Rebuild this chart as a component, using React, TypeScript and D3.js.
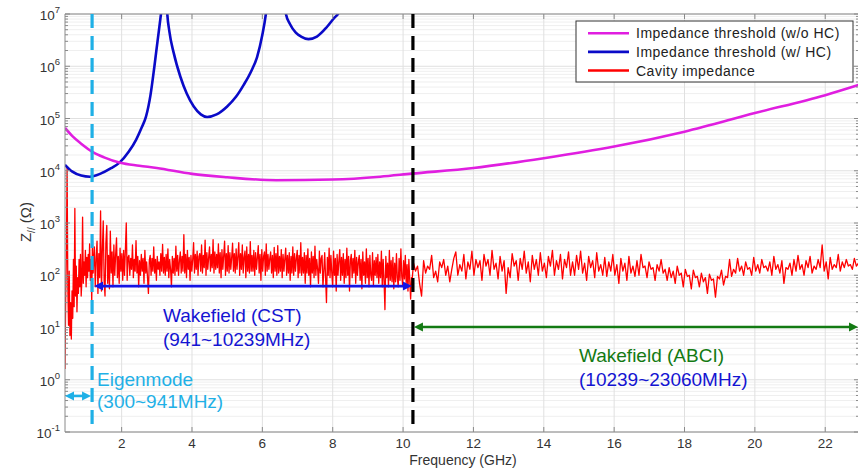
import React from 'react';
import * as d3 from 'd3';

const W = 858, H = 469;
const PL = 65, PR = 859, PT = 14, PB = 432;

const xDomain = [0.39, 22.96];
const yDomain = [0.1, 1e7];
const xTicks = [2, 4, 6, 8, 10, 12, 14, 16, 18, 20, 22];
const yTickExps = [-1, 0, 1, 2, 3, 4, 5, 6, 7];

// Impedance threshold (w/o HC)
const magentaFreq = [0.39, 0.6, 0.85, 1.17, 1.5, 1.96, 2.5, 3.0, 4.0, 5.0, 6.4, 8.0, 9.35, 10.24, 12, 14, 16, 18, 20, 22, 23];
const magentaVal = [6.6e4, 4.6e4, 3.3e4, 2.3e4, 1.8e4, 1.42e4, 1.25e4, 1.13e4, 8.7e3, 7.5e3, 6.6e3, 6.8e3, 7.7e3, 8.8e3, 1.13e4, 1.74e4, 2.9e4, 5.6e4, 1.27e5, 2.8e5, 4.5e5];

// Impedance threshold (w/ HC), three branches between resonances
const blue1Freq = [0.39, 0.6, 0.85, 1.1, 1.4, 1.7, 1.94, 2.2, 2.41, 2.56, 2.69, 2.82, 2.93, 3.02, 3.1, 3.17, 3.22];
const blue1Val = [1.3e4, 9.6e3, 8.1e3, 7.7e3, 8.8e3, 1.12e4, 1.43e4, 2.3e4, 3.9e4, 6.5e4, 1.07e5, 2.8e5, 9.8e5, 3e6, 8e6, 2e7, 5e7];
const blue2Freq = [3.25, 3.29, 3.36, 3.48, 3.67, 3.85, 4.05, 4.25, 4.43, 4.7, 5.0, 5.25, 5.47, 5.7, 5.85, 6.0, 6.1, 6.18];
const blue2Val = [5e7, 1.2e7, 4.5e6, 1.8e6, 6.3e5, 3e5, 1.7e5, 1.2e5, 1.07e5, 1.2e5, 1.7e5, 2.6e5, 4.4e5, 8.5e5, 1.5e6, 4e6, 1e7, 3e7];
const blue3Freq = [6.6, 6.67, 6.78, 6.95, 7.1, 7.31, 7.55, 7.84, 8.05, 8.15, 8.25];
const blue3Val = [2e7, 1e7, 6.5e6, 4.4e6, 3.7e6, 3.3e6, 3.7e6, 5.7e6, 8.5e6, 1e7, 1.3e7];

// Cavity impedance: eigenmode part
const redEarlyFreq = [0.39, 0.41, 0.43, 0.45, 0.47, 0.49, 0.51, 0.53, 0.55, 0.57, 0.59, 0.61, 0.63, 0.65, 0.67, 0.69, 0.71, 0.73, 0.75, 0.77, 0.79, 0.81, 0.83, 0.85, 0.87, 0.89, 0.91, 0.93, 0.95, 0.97, 0.99, 1.01, 1.03, 1.05, 1.07, 1.09, 1.11, 1.13, 1.15, 1.17, 1.19];
const redEarlyVal = [1.6, 40, 300, 12000, 60, 11, 120, 7, 30, 6, 50, 15, 200, 25, 1900, 40, 150, 20, 90, 45, 200, 60, 250, 40, 80, 1300, 70, 180, 100, 300, 60, 220, 90, 250, 120, 400, 80, 200, 30, 450, 110];

// Cavity impedance: wakefield (CST), evenly sampled 1.2 .. 10.24 GHz
const cstStart = 1.2, cstEnd = 10.24;
const cstVal = [
  120, 350, 60, 210, 450, 45, 260, 90, 1700, 50, 300, 1100, 80, 40, 420, 900, 70, 240, 55, 700,
  110, 280, 60, 380, 100, 250, 520, 90, 230, 70, 330, 120, 260, 80, 300, 100, 310, 1000, 80, 220,
  240, 100, 210, 130, 380, 90, 200, 120, 460, 110, 230, 60, 190, 100, 250, 120, 210, 70, 300, 110,
  180, 90, 45, 190, 240, 100, 210, 120, 350, 110, 200, 80, 230, 130, 180, 100, 260, 120, 390, 110,
  220, 100, 250, 120, 320, 90, 200, 130, 60, 230, 110, 210, 100, 360, 120, 240, 100, 190, 280, 110,
  230, 120, 600, 110, 250, 90, 300, 130, 220, 80, 240, 120, 200, 420, 110, 250, 130, 290, 100, 230,
  260, 120, 380, 110, 240, 140, 470, 100, 270, 130, 220, 350, 120, 250, 140, 480, 110, 280, 130, 250,
  140, 400, 110, 270, 90, 310, 130, 240, 450, 100, 260, 120, 370, 110, 270, 130, 220, 410, 120, 260,
  110, 320, 130, 230, 420, 100, 260, 130, 380, 110, 220, 290, 90, 350, 120, 250, 110, 440, 120, 240,
  120, 300, 100, 270, 130, 220, 370, 110, 250, 80, 310, 120, 230, 280, 100, 400, 120, 250, 130, 210,
  280, 110, 240, 90, 340, 120, 260, 100, 370, 110, 230, 120, 310, 90, 250, 120, 210, 330, 100, 240,
  110, 270, 80, 230, 110, 350, 100, 260, 120, 210, 300, 90, 240, 110, 420, 100, 220, 110, 270, 70,
  240, 110, 320, 100, 210, 60, 280, 110, 230, 90, 360, 100, 200, 130, 70, 290, 110, 210, 240, 60,
  120, 270, 90, 30, 220, 100, 330, 90, 240, 110, 60, 290, 100, 210, 50, 250, 100, 190, 310, 80,
  220, 100, 260, 70, 200, 90, 330, 100, 230, 50, 190, 250, 90, 210, 110, 300, 70, 220, 100, 180,
  240, 80, 200, 55, 280, 100, 180, 70, 320, 90, 210, 60, 240, 100, 80, 270, 65, 190, 100, 220,
  90, 250, 70, 180, 90, 290, 60, 200, 80, 22, 230, 90, 170, 60, 300, 80, 190, 75, 220, 55,
  170, 75, 260, 90, 60, 210, 80, 320, 95, 65, 190, 85, 240, 70, 160, 50, 200, 80, 35, 90
];

// Cavity impedance: wakefield (ABCI), evenly sampled 10.24 .. 23.0 GHz
const abciStart = 10.24, abciEnd = 23.0;
const abciVal = [
  60, 170, 120, 150, 70, 40, 190, 110, 150, 130, 240, 90, 120, 75, 180, 140,
  200, 100, 150, 75, 130, 210, 280, 100, 160, 120, 250, 85, 180, 130, 290, 100,
  200, 140, 190, 80, 250, 150, 200, 100, 300, 130, 170, 85, 230, 120, 190, 45,
  140, 90, 260, 150, 190, 80, 210, 130, 290, 110, 180, 75, 240, 130, 200, 100,
  270, 120, 170, 90, 230, 150, 300, 100, 190, 130, 250, 85, 200, 140, 280, 100,
  180, 100, 240, 130, 290, 110, 170, 80, 230, 140, 190, 90, 270, 120, 160, 100,
  220, 95, 180, 120, 250, 100, 160, 70, 210, 120, 170, 80, 230, 110, 150, 95,
  190, 100, 250, 140, 150, 90, 180, 130, 140, 80, 160, 120, 200, 110, 130, 80,
  140, 90, 120, 70, 150, 100, 110, 60, 130, 95, 100, 55, 125, 90, 95, 60,
  110, 75, 90, 45, 105, 80, 85, 38, 95, 85, 125, 65, 95, 90, 200, 95,
  130, 110, 210, 120, 150, 100, 180, 130, 140, 100, 220, 120, 160, 110, 200, 140,
  150, 120, 180, 100, 230, 130, 160, 110, 190, 70, 140, 130, 170, 100, 200, 120,
  240, 130, 160, 100, 190, 140, 230, 110, 150, 130, 200, 140, 380, 120, 180, 85,
  220, 130, 160, 140, 250, 120, 180, 140, 200, 150, 160, 130, 210, 150, 170, 160
];

// Annotation positions (data units)
const eigenBoundary = 1.16;
const abciBoundary = 10.28;
const cstArrowLevel = 62;
const abciArrowLevel = 10.2;
const eigenArrowLevel = 0.49;

const legendItems = [
  { label: 'Impedance threshold (w/o HC)', color: '#e01ee0' },
  { label: 'Impedance threshold (w/ HC)', color: '#0a0ac8' },
  { label: 'Cavity impedance', color: '#ff0000' },
];

const FONT = '"Liberation Sans", Arial, Helvetica, sans-serif';

function zip(f: number[], v: number[]) {
  return f.map((x, i) => [x, v[i]] as [number, number]);
}

export default function App() {
  const x = d3.scaleLinear().domain(xDomain).range([PL, PR]);
  const y = d3.scaleLog().domain(yDomain).range([PB, PT]);

  const smooth = d3.line<[number, number]>().x(d => x(d[0])).y(d => y(d[1])).curve(d3.curveMonotoneX);
  const raw = d3.line<[number, number]>().x(d => x(d[0])).y(d => y(d[1]));

  const cstPts = cstVal.map((v, i) => [cstStart + (i * (cstEnd - cstStart)) / (cstVal.length - 1), v] as [number, number]);
  const abciPts = abciVal.map((v, i) => [abciStart + (i * (abciEnd - abciStart)) / (abciVal.length - 1), v] as [number, number]);
  const redPts = [...zip(redEarlyFreq, redEarlyVal), ...cstPts.slice(1), ...abciPts];

  const minorY: number[] = [];
  for (let e = -1; e < 7; e++) for (let m = 2; m <= 9; m++) minorY.push(m * Math.pow(10, e));

  const arrow = (x1: number, x2: number, yy: number, color: string, key: string) => {
    const hl = 9, hw = 4.5;
    return (
      <g key={key}>
        <line x1={x1 + hl - 1} x2={x2 - hl + 1} y1={yy} y2={yy} stroke={color} strokeWidth={2.6} />
        <polygon points={`${x1},${yy} ${x1 + hl},${yy - hw} ${x1 + hl},${yy + hw}`} fill={color} />
        <polygon points={`${x2},${yy} ${x2 - hl},${yy - hw} ${x2 - hl},${yy + hw}`} fill={color} />
      </g>
    );
  };

  const xe = x(eigenBoundary), xa = x(abciBoundary);

  return (
    <svg width={W} height={H} style={{ position: 'absolute', left: 0, top: 0, background: '#fff' }} fontFamily={FONT}>
      <defs>
        <clipPath id="plotClip">
          <rect x={PL} y={PT} width={PR - PL} height={PB - PT} />
        </clipPath>
      </defs>
      <rect x={0} y={0} width={W} height={H} fill="#fff" />
      {/* grid */}
      {minorY.map((v, i) => (
        <line key={'my' + i} x1={PL} x2={PR} y1={y(v)} y2={y(v)} stroke="#efefef" strokeWidth={1} />
      ))}
      {yTickExps.map(e => (
        <line key={'gy' + e} x1={PL} x2={PR} y1={y(Math.pow(10, e))} y2={y(Math.pow(10, e))} stroke="#e0e0e0" strokeWidth={1} />
      ))}
      {xTicks.map(t => (
        <line key={'gx' + t} x1={x(t)} x2={x(t)} y1={PT} y2={PB} stroke="#e0e0e0" strokeWidth={1} />
      ))}

      {/* data */}
      <g clipPath="url(#plotClip)" fill="none" strokeLinejoin="round">
        <path d={raw(redPts) || ''} stroke="#ff0000" strokeWidth={1.3} />
        <path d={smooth(zip(blue1Freq, blue1Val)) || ''} stroke="#0a0ac8" strokeWidth={2.6} />
        <path d={smooth(zip(blue2Freq, blue2Val)) || ''} stroke="#0a0ac8" strokeWidth={2.6} />
        <path d={smooth(zip(blue3Freq, blue3Val)) || ''} stroke="#0a0ac8" strokeWidth={2.6} />
        <path d={smooth(zip(magentaFreq, magentaVal)) || ''} stroke="#e01ee0" strokeWidth={2.6} />
      </g>

      {/* axes box */}
      <line x1={PL} x2={PL} y1={PT} y2={PB} stroke="#8a8a8a" strokeWidth={1} />
      <line x1={PL} x2={PR} y1={PB} y2={PB} stroke="#8a8a8a" strokeWidth={1} />
      <line x1={PL} x2={PR} y1={PT} y2={PT} stroke="#8a8a8a" strokeWidth={1} />
      <line x1={PR} x2={PR} y1={PT} y2={PB} stroke="#8a8a8a" strokeWidth={1} />
      {xTicks.map(t => (
        <g key={'xt' + t}>
          <line x1={x(t)} x2={x(t)} y1={PB} y2={PB - 5} stroke="#8a8a8a" />
          <line x1={x(t)} x2={x(t)} y1={PT} y2={PT + 5} stroke="#8a8a8a" />
          <text x={x(t)} y={PB + 16} textAnchor="middle" fontSize={13.5} fill="#333">{t}</text>
        </g>
      ))}
      {minorY.map((v, i) => (
        <g key={'myt' + i}>
          <line x1={PL} x2={PL + 3} y1={y(v)} y2={y(v)} stroke="#8a8a8a" />
          <line x1={PR} x2={PR - 3} y1={y(v)} y2={y(v)} stroke="#8a8a8a" />
        </g>
      ))}
      {yTickExps.map(e => {
        const yy = y(Math.pow(10, e));
        return (
          <g key={'yt' + e}>
            <line x1={PL} x2={PL + 5} y1={yy} y2={yy} stroke="#8a8a8a" />
            <line x1={PR} x2={PR - 5} y1={yy} y2={yy} stroke="#8a8a8a" />
            <text x={PL - 5} y={yy + 6} textAnchor="end" fontSize={13.5} fill="#333">
              10<tspan dy={-7} fontSize={9.5}>{e}</tspan>
            </text>
          </g>
        );
      })}
      <text x={463} y={465} textAnchor="middle" fontSize={14} fill="#333">Frequency (GHz)</text>
      <text transform={`translate(31,222) rotate(-90)`} textAnchor="middle" fontSize={15} fill="#333">
        Z<tspan dy={4} fontSize={10}>//</tspan><tspan dy={-4}> (Ω)</tspan>
      </text>

      {/* annotations */}
      <line x1={xe} x2={xe} y1={PT} y2={PB} stroke="#1fb0e6" strokeWidth={3.2} strokeDasharray="14,8" />
      <line x1={xa} x2={xa} y1={PT} y2={PB} stroke="#000" strokeWidth={3.2} strokeDasharray="14,8" />
      {arrow(xe + 2, xa - 1, y(cstArrowLevel), '#1414e6', 'a1')}
      {arrow(xa + 1, 858, y(abciArrowLevel), '#137a13', 'a2')}
      {arrow(PL, xe - 1, y(eigenArrowLevel), '#1fb0e6', 'a3')}

      <text x={163} y={322} fontSize={19} fill="#1414d2">Wakefield (CST)</text>
      <text x={163} y={346} fontSize={19} fill="#1414d2">(941~10239MHz)</text>
      <text x={579} y={362} fontSize={19} fill="#137a13">Wakefield (ABCI)</text>
      <text x={579} y={386} fontSize={19} fill="#1414d2">(10239~23060MHz)</text>
      <text x={97} y={386} fontSize={19} fill="#1fb0e6">Eigenmode</text>
      <text x={97} y={408} fontSize={19} fill="#1fb0e6">(300~941MHz)</text>

      {/* legend */}
      <rect x={576} y={21} width={277} height={61} fill="#fff" stroke="#333" strokeWidth={1} />
      {legendItems.map((it, i) => {
        const ly = 33.3 + i * 18.6;
        return (
          <g key={'lg' + i}>
            <line x1={588} x2={629} y1={ly} y2={ly} stroke={it.color} strokeWidth={2.6} />
            <text x={636} y={ly + 5} fontSize={14} letterSpacing={0.5} fill="#222">{it.label}</text>
          </g>
        );
      })}
    </svg>
  );
}
